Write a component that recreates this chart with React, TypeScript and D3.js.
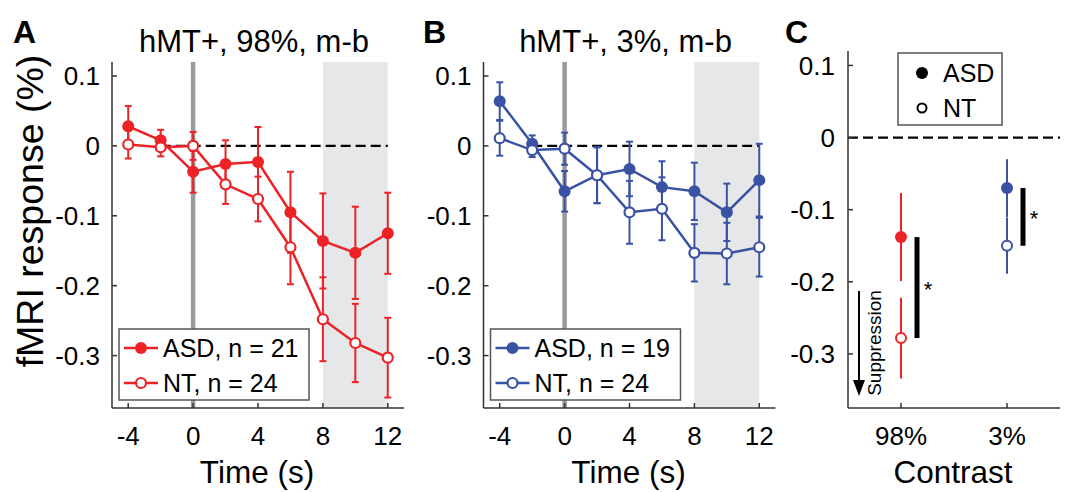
import React from "react";
import * as d3 from "d3";

const times = [-4, -2, 0, 2, 4, 6, 8, 10, 12];
const asd98 = [0.028, 0.008, -0.037, -0.026, -0.023, -0.095, -0.136, -0.153, -0.125];
const asd98Err = [0.029, 0.015, 0.030, 0.034, 0.050, 0.058, 0.068, 0.066, 0.058];
const nt98 = [0.002, -0.002, 0.0, -0.055, -0.076, -0.145, -0.248, -0.282, -0.303];
const nt98Err = [0.020, 0.013, 0.020, 0.028, 0.032, 0.053, 0.060, 0.056, 0.057];
const asd3 = [0.064, 0.003, -0.065, -0.042, -0.033, -0.059, -0.065, -0.095, -0.049];
const asd3Err = [0.027, 0.012, 0.029, 0.040, 0.039, 0.037, 0.041, 0.041, 0.052];
const nt3 = [0.011, -0.006, -0.004, -0.042, -0.095, -0.090, -0.153, -0.154, -0.145];
const nt3Err = [0.025, 0.010, 0.023, 0.040, 0.045, 0.045, 0.041, 0.044, 0.042];

const contrasts = ["98%", "3%"];
const asdMean = [-0.138, -0.070];
const asdErr = [0.061, 0.040];
const ntMean = [-0.278, -0.150];
const ntErr = [0.056, 0.039];

const yTicks = [0.1, 0, -0.1, -0.2, -0.3];
const yTickLabels = ["0.1", "0", "-0.1", "-0.2", "-0.3"];
const xTicks = [-4, 0, 4, 8, 12];

const RED = "#ec2227";
const BLUE = "#3a52a3";
const AX = "#333";
const FONT = "'Liberation Sans', Arial, Helvetica, sans-serif";

type PanelProps = {
  x0: number;
  x1: number;
  asd: number[];
  asdE: number[];
  nt: number[];
  ntE: number[];
  color: string;
  title: string;
  letter: string;
  letterX: number;
  nAsd: number;
  nNt: number;
};

function TimePanel(p: PanelProps) {
  const x = d3.scaleLinear().domain([-5, 13]).range([p.x0, p.x1]);
  const y = d3.scaleLinear().domain([-0.375, 0.12]).range([408, 62]);
  const line = d3
    .line<number>()
    .x((_, i) => x(times[i]))
    .y((v) => y(v));
  const cap = 3.5;
  const errBars = (vals: number[], errs: number[]) =>
    vals.map((v, i) => {
      const cx = x(times[i]);
      const t = y(v + errs[i]);
      const b = y(v - errs[i]);
      return (
        <g key={i} stroke={p.color} strokeWidth={2}>
          <line x1={cx} x2={cx} y1={t} y2={b} />
          <line x1={cx - cap} x2={cx + cap} y1={t} y2={t} />
          <line x1={cx - cap} x2={cx + cap} y1={b} y2={b} />
        </g>
      );
    });
  const legX = x(-5) + 7;
  const legY = 329;
  return (
    <g fontFamily={FONT}>
      <text x={p.letterX} y={43} fontSize={32} fontWeight="bold" fill="#000">
        {p.letter}
      </text>
      <text x={(x(-5) + x(13)) / 2 - 4} y={52} fontSize={31} textAnchor="middle" fill="#000">
        {p.title}
      </text>
      <rect x={x(8)} y={y(0.12)} width={x(12) - x(8)} height={y(-0.375) - y(0.12)} fill="#e6e7e8" />
      <line x1={x(0)} x2={x(0)} y1={y(0.12)} y2={y(-0.375)} stroke="#9a9a9a" strokeWidth={4.5} />
      <line x1={x(-2)} x2={x(12)} y1={y(0)} y2={y(0)} stroke="#000" strokeWidth={2.2} strokeDasharray="10,5" />
      {/* axes */}
      <line x1={x(-5)} x2={x(-5)} y1={y(0.12)} y2={y(-0.375)} stroke={AX} strokeWidth={1.5} />
      <line x1={x(-5)} x2={x(13)} y1={y(-0.375)} y2={y(-0.375)} stroke={AX} strokeWidth={1.5} />
      {yTicks.map((t, i) => (
        <g key={t}>
          <line x1={x(-5)} x2={x(-5) + 5} y1={y(t)} y2={y(t)} stroke={AX} strokeWidth={1.5} />
          <text x={x(-5) - 12} y={y(t)} dy="0.36em" fontSize={26} textAnchor="end" fill="#000">
            {yTickLabels[i]}
          </text>
        </g>
      ))}
      {xTicks.map((t) => (
        <g key={t}>
          <line x1={x(t)} x2={x(t)} y1={y(-0.375)} y2={y(-0.375) - 5} stroke={AX} strokeWidth={1.5} />
          <text x={x(t)} y={445} fontSize={26} textAnchor="middle" fill="#000">
            {String(t)}
          </text>
        </g>
      ))}
      <text x={(x(-5) + x(13)) / 2 - 1} y={483} fontSize={31.5} textAnchor="middle" fill="#000">
        Time (s)
      </text>
      {errBars(p.asd, p.asdE)}
      {errBars(p.nt, p.ntE)}
      <path d={line(p.asd) || ""} fill="none" stroke={p.color} strokeWidth={2.5} />
      <path d={line(p.nt) || ""} fill="none" stroke={p.color} strokeWidth={2.5} />
      {p.asd.map((v, i) => (
        <circle key={"a" + i} cx={x(times[i])} cy={y(v)} r={6} fill={p.color} />
      ))}
      {p.nt.map((v, i) => (
        <circle key={"n" + i} cx={x(times[i])} cy={y(v)} r={5} fill="#fff" stroke={p.color} strokeWidth={2.2} />
      ))}
      {/* legend */}
      <rect x={legX} y={legY} width={190} height={71} fill="#fff" stroke="#555" strokeWidth={1.5} />
      <line x1={legX + 5} x2={legX + 39} y1={legY + 19} y2={legY + 19} stroke={p.color} strokeWidth={2.5} />
      <circle cx={legX + 22} cy={legY + 19} r={6} fill={p.color} />
      <text x={legX + 44} y={legY + 19} dy="0.36em" fontSize={25} fill="#000">
        {`ASD, n = ${p.nAsd}`}
      </text>
      <line x1={legX + 5} x2={legX + 39} y1={legY + 54} y2={legY + 54} stroke={p.color} strokeWidth={2.5} />
      <circle cx={legX + 22} cy={legY + 54} r={5} fill="#fff" stroke={p.color} strokeWidth={2.2} />
      <text x={legX + 44} y={legY + 54} dy="0.36em" fontSize={25} fill="#000">
        {`NT, n = ${p.nNt}`}
      </text>
    </g>
  );
}

function ContrastPanel() {
  const x = d3.scaleLinear().domain([0.5, 2.5]).range([848, 1060]);
  const y = d3.scaleLinear().domain([-0.375, 0.12]).range([408, 51]);
  const colors = [RED, BLUE];
  const sigX = [x(1) + 16, x(2) + 16];
  const tip = 396;
  return (
    <g fontFamily={FONT}>
      <text x={785} y={43} fontSize={32} fontWeight="bold" fill="#000">
        C
      </text>
      <line x1={x(0.5)} x2={x(2.5)} y1={y(0)} y2={y(0)} stroke="#000" strokeWidth={2.2} strokeDasharray="10,5" />
      <line x1={x(0.5)} x2={x(0.5)} y1={y(0.12)} y2={y(-0.375)} stroke={AX} strokeWidth={1.5} />
      <line x1={x(0.5)} x2={x(2.5)} y1={y(-0.375)} y2={y(-0.375)} stroke={AX} strokeWidth={1.5} />
      {yTicks.map((t, i) => (
        <g key={t}>
          <line x1={x(0.5)} x2={x(0.5) + 5} y1={y(t)} y2={y(t)} stroke={AX} strokeWidth={1.5} />
          <text x={x(0.5) - 13} y={y(t)} dy="0.36em" fontSize={26} textAnchor="end" fill="#000">
            {yTickLabels[i]}
          </text>
        </g>
      ))}
      {contrasts.map((c, i) => (
        <g key={c}>
          <line x1={x(i + 1)} x2={x(i + 1)} y1={y(-0.375)} y2={y(-0.375) - 5} stroke={AX} strokeWidth={1.5} />
          <text x={x(i + 1)} y={445} fontSize={26} textAnchor="middle" fill="#000">
            {c}
          </text>
        </g>
      ))}
      <text x={953} y={483} fontSize={31.5} textAnchor="middle" fill="#000">
        Contrast
      </text>
      {contrasts.map((c, i) => (
        <g key={"d" + c}>
          <line x1={x(i + 1)} x2={x(i + 1)} y1={y(asdMean[i] + asdErr[i])} y2={y(asdMean[i] - asdErr[i])} stroke={colors[i]} strokeWidth={2} />
          <line x1={x(i + 1)} x2={x(i + 1)} y1={y(ntMean[i] + ntErr[i])} y2={y(ntMean[i] - ntErr[i])} stroke={colors[i]} strokeWidth={2} />
          <circle cx={x(i + 1)} cy={y(asdMean[i])} r={6} fill={colors[i]} />
          <circle cx={x(i + 1)} cy={y(ntMean[i])} r={5} fill="#fff" stroke={colors[i]} strokeWidth={2} />
          <rect x={sigX[i] - 2.5} y={y(asdMean[i])} width={5} height={y(ntMean[i]) - y(asdMean[i])} fill="#000" />
          <text x={sigX[i] + 11} y={(y(asdMean[i]) + y(ntMean[i])) / 2 + 9} fontSize={22} textAnchor="middle" fill="#000">
            *
          </text>
        </g>
      ))}
      {/* suppression arrow */}
      <line x1={859} x2={859} y1={291} y2={tip - 12} stroke="#000" strokeWidth={2} />
      <path d={`M ${859 - 6} ${tip - 16} L ${859 + 6} ${tip - 16} L 859 ${tip} Z`} fill="#000" />
      <text x={0} y={0} transform={`translate(881, 343) rotate(-90)`} fontSize={19} textAnchor="middle" fill="#000">
        Suppression
      </text>
      {/* legend */}
      <rect x={898} y={53} width={104} height={72} fill="#fff" stroke="#555" strokeWidth={1.5} />
      <circle cx={922} cy={73} r={6} fill="#000" />
      <text x={943} y={73} dy="0.36em" fontSize={25} fill="#000">
        ASD
      </text>
      <circle cx={922} cy={108} r={4.5} fill="#fff" stroke="#000" strokeWidth={2} />
      <text x={943} y={108} dy="0.36em" fontSize={25} fill="#000">
        NT
      </text>
    </g>
  );
}

export default function App() {
  return (
    <svg
      width={1068}
      height={492}
      style={{ position: "absolute", left: 0, top: 0, background: "#fff" }}
    >
      <rect width={1068} height={492} fill="#fff" />
      <text
        transform="translate(43, 211) rotate(-90)"
        fontFamily={FONT}
        fontSize={37.5}
        textAnchor="middle"
        fill="#000"
      >
        fMRI response (%)
      </text>
      <TimePanel
        x0={112}
        x1={404}
        asd={asd98}
        asdE={asd98Err}
        nt={nt98}
        ntE={nt98Err}
        color={RED}
        title="hMT+, 98%, m-b"
        letter="A"
        letterX={13}
        nAsd={21}
        nNt={24}
      />
      <TimePanel
        x0={483.5}
        x1={775.5}
        asd={asd3}
        asdE={asd3Err}
        nt={nt3}
        ntE={nt3Err}
        color={BLUE}
        title="hMT+, 3%, m-b"
        letter="B"
        letterX={423}
        nAsd={19}
        nNt={24}
      />
      <ContrastPanel />
    </svg>
  );
}
